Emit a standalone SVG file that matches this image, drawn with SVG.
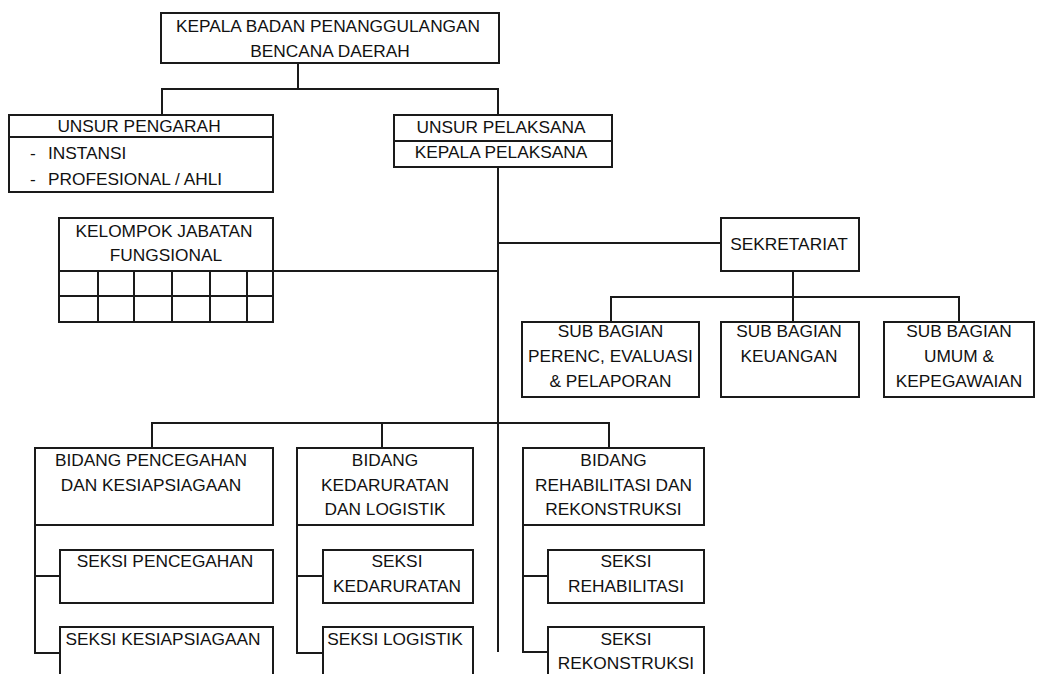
<svg xmlns="http://www.w3.org/2000/svg" width="1037" height="674" viewBox="0 0 1037 674">
<style>
.b{fill:#fff;stroke:#1a1a1a;stroke-width:2}
.l{fill:none;stroke:#1a1a1a;stroke-width:2}
text{font-family:"Liberation Sans",Arial,sans-serif;font-size:17.3px;fill:#111}
.c{text-anchor:middle}
</style>
<rect width="1037" height="674" fill="#fff"/>
<g id="connectors" class="l">
<path d="M298,63 V89 M162,115 V89 H498 V115"/>
<path d="M498,167 V652"/>
<path d="M498,243 H721"/>
<path d="M273,271 H498"/>
<path d="M793,271 V297 M611,322 V297 H959 V322 M793,297 V322"/>
<path d="M152,448 V423 H609 V448 M382,423 V448"/>
<path d="M35,525 V653 H60 M35,576 H60"/>
<path d="M297,525 V653 H323 M297,576 H323"/>
<path d="M523,525 V652 H548 M523,576 H548"/>
</g>
<g id="kepala">
<rect class="b" x="161" y="13" width="338" height="50"/>
<text class="c" x="328" y="32">KEPALA BADAN PENANGGULANGAN</text>
<text class="c" x="330" y="57">BENCANA DAERAH</text>
</g>
<g id="pengarah">
<rect class="b" x="9" y="115" width="264" height="77"/>
<path class="l" d="M9,137 H273"/>
<text class="c" x="139" y="132">UNSUR PENGARAH</text>
<text y="159"><tspan x="30">-</tspan><tspan x="48">INSTANSI</tspan></text>
<text y="185"><tspan x="30">-</tspan><tspan x="48">PROFESIONAL / AHLI</tspan></text>
</g>
<g id="pelaksana">
<rect class="b" x="394" y="115" width="218" height="52"/>
<path class="l" d="M394,141 H612"/>
<text class="c" x="501" y="133">UNSUR PELAKSANA</text>
<text class="c" x="501" y="158">KEPALA PELAKSANA</text>
</g>
<g id="kelompok">
<rect class="b" x="59" y="218" width="214" height="104"/>
<path class="l" d="M59,271 H273 M59,296 H273 M98,271 V322 M134,271 V322 M172,271 V322 M210,271 V322 M247,271 V322"/>
<text class="c" x="164" y="237">KELOMPOK JABATAN</text>
<text class="c" x="166" y="261">FUNGSIONAL</text>
</g>
<g id="sekretariat">
<rect class="b" x="721" y="218" width="138" height="53"/>
<text class="c" x="789" y="250">SEKRETARIAT</text>
</g>
<g id="sub-perenc">
<rect class="b" x="522" y="322" width="177" height="75"/>
<text class="c" x="610.5" y="337">SUB BAGIAN</text>
<text class="c" x="610.5" y="362">PERENC, EVALUASI</text>
<text class="c" x="610.5" y="387">&amp; PELAPORAN</text>
</g>
<g id="sub-keuangan">
<rect class="b" x="721" y="322" width="138" height="75"/>
<text class="c" x="789" y="337">SUB BAGIAN</text>
<text class="c" x="789" y="362">KEUANGAN</text>
</g>
<g id="sub-umum">
<rect class="b" x="884" y="322" width="150" height="75"/>
<text class="c" x="959" y="337">SUB BAGIAN</text>
<text class="c" x="959" y="362">UMUM &amp;</text>
<text class="c" x="959" y="387">KEPEGAWAIAN</text>
</g>
<g id="bidang-pencegahan">
<rect class="b" x="35" y="448" width="238" height="77"/>
<text class="c" x="151" y="466">BIDANG PENCEGAHAN</text>
<text class="c" x="151" y="491">DAN KESIAPSIAGAAN</text>
</g>
<g id="bidang-kedaruratan">
<rect class="b" x="297" y="448" width="176" height="77"/>
<text class="c" x="385" y="466">BIDANG</text>
<text class="c" x="385" y="491">KEDARURATAN</text>
<text class="c" x="385" y="515">DAN LOGISTIK</text>
</g>
<g id="bidang-rehabilitasi">
<rect class="b" x="523" y="448" width="181" height="77"/>
<text class="c" x="613.5" y="466">BIDANG</text>
<text class="c" x="613.5" y="491">REHABILITASI DAN</text>
<text class="c" x="613.5" y="515">REKONSTRUKSI</text>
</g>
<g id="seksi-pencegahan">
<rect class="b" x="60" y="550" width="213" height="53"/>
<text class="c" x="165" y="567">SEKSI PENCEGAHAN</text>
</g>
<g id="seksi-kesiapsiagaan">
<rect class="b" x="60" y="627" width="213" height="80"/>
<text class="c" x="163" y="645">SEKSI KESIAPSIAGAAN</text>
</g>
<g id="seksi-kedaruratan">
<rect class="b" x="323" y="550" width="150" height="53"/>
<text class="c" x="397" y="567">SEKSI</text>
<text class="c" x="397" y="592">KEDARURATAN</text>
</g>
<g id="seksi-logistik">
<rect class="b" x="323" y="627" width="150" height="80"/>
<text class="c" x="395" y="645">SEKSI LOGISTIK</text>
</g>
<g id="seksi-rehabilitasi">
<rect class="b" x="548" y="550" width="156" height="53"/>
<text class="c" x="626" y="567">SEKSI</text>
<text class="c" x="626" y="592">REHABILITASI</text>
</g>
<g id="seksi-rekonstruksi">
<rect class="b" x="548" y="627" width="156" height="80"/>
<text class="c" x="626" y="645">SEKSI</text>
<text class="c" x="626" y="669">REKONSTRUKSI</text>
</g>
</svg>
